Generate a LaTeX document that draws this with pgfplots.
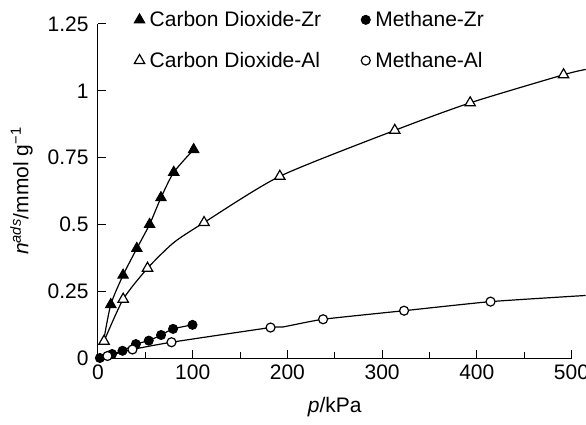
\documentclass[border=0pt]{standalone}
\usepackage{fontspec}
\setmainfont{Liberation Sans}
\usepackage{pgfplots}
\pgfplotsset{compat=1.18}
\newcommand{\bigf}{\fontsize{21bp}{25bp}\selectfont}
\begin{document}
\begin{tikzpicture}
\useasboundingbox (-98bp,-67bp) rectangle (488bp,358bp);
\begin{axis}[
  scale only axis, width=473.5bp, height=334bp,
  xmin=0, xmax=500, ymin=0, ymax=1.25,
  axis lines=left, axis line style={-, line width=1bp},
  xtick={0,100,200,300,400,500},
  minor xtick={50,150,250,350,450},
  ytick={0,0.25,0.5,0.75,1,1.25},
  yticklabels={0,0.25,0.5,0.75,1,1.25},
  tick align=inside, major tick length=8bp, minor tick length=6bp,
  every tick/.style={line width=1bp, black},
  tick label style={font=\bigf},
  yticklabel style={xshift=-6bp},
  xticklabel style={yshift=-3bp},
  /pgf/number format/assume math mode=true,
  label style={font=\bigf},
  xlabel={{\itshape p}/kPa},
  xlabel style={yshift=-11bp},
  ylabel={{\itshape n}\textsuperscript{\itshape ads}/mmol g\textsuperscript{−1}},
  ylabel style={yshift=8bp},
  legend style={draw=none, fill=none, font=\bigf,
    at={(axis description cs:0.07,1.05)}, anchor=north west,
    /tikz/every odd column/.append style={column sep=3bp},
    /tikz/every even column/.append style={column sep=38bp}, row sep=20bp},
  legend columns=2, legend cell align=left,
  clip=false,
]
% lines
\addplot[forget plot, black, line width=1.2bp, smooth, tension=0.4] coordinates {
 (6,0.065) (13.5,0.20) (26.5,0.31) (41,0.41) (54.5,0.50) (66.5,0.60) (80,0.695) (101,0.78)};
\addplot[forget plot, black, line width=1.2bp, smooth, tension=0.4] coordinates {
 (2,0) (14.9,0.015) (25.9,0.027) (40,0.052) (53.6,0.065) (66.6,0.086) (79.3,0.109) (99.8,0.124)};
\addplot[forget plot, black, line width=1.2bp, smooth, tension=0.4] coordinates {
 (6.4,0.063) (26.6,0.22) (52.3,0.336) (80,0.432) (112,0.507) (192,0.68) (313.4,0.852) (393,0.955) (491.6,1.06) (515,1.08)};
\addplot[forget plot, black, line width=1.2bp, smooth, tension=0.3] coordinates {
 (2,0) (10,0.0075) (36.4,0.032) (77.6,0.059) (182.2,0.114) (195,0.116) (237.7,0.145) (323.2,0.177) (414.5,0.211) (515,0.234)};
% markers
\addplot[only marks, mark=triangle*, mark size=6bp, mark options={fill=black, draw=black, line width=1bp}] coordinates {
 (13.5,0.20) (26.5,0.31) (41,0.41) (54.5,0.50) (66.5,0.60) (80,0.695) (101,0.78)};
\addlegendentry{Carbon Dioxide-Zr}
\addplot[only marks, mark=*, mark size=4.5bp, mark options={fill=black, draw=black, line width=1bp}] coordinates {
 (2,0) (14.9,0.015) (25.9,0.027) (40,0.052) (53.6,0.065) (66.6,0.086) (79.3,0.109) (99.8,0.124)};
\addlegendentry{Methane-Zr}
\addplot[only marks, mark=triangle*, mark size=6bp, mark options={fill=white, draw=black, line width=1.2bp}] coordinates {
 (6.4,0.063) (26.6,0.22) (52.3,0.336) (112,0.507) (192,0.68) (313.4,0.852) (393,0.955) (491.6,1.06)};
\addlegendentry{Carbon Dioxide-Al}
\addplot[only marks, mark=*, mark size=4.5bp, mark options={fill=white, draw=black, line width=1.2bp}] coordinates {
 (10,0.0075) (36.4,0.032) (77.6,0.059) (182.2,0.114) (237.7,0.145) (323.2,0.177) (414.5,0.211)};
\addlegendentry{Methane-Al}
\end{axis}
\end{tikzpicture}
\end{document}
